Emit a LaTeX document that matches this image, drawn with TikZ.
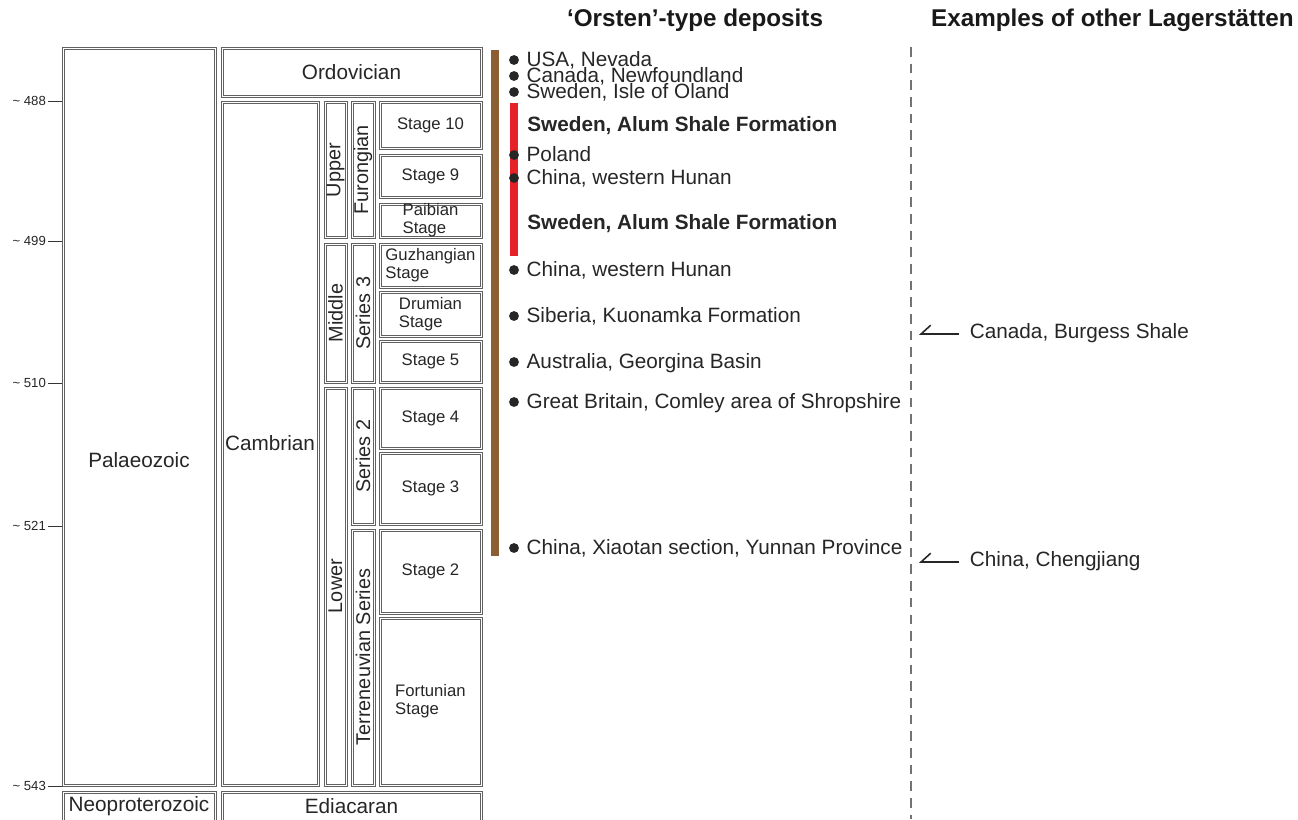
\documentclass[tikz,border=0pt]{standalone}
\usepackage{fontspec}
\setmainfont{Liberation Sans}
\usepackage{xcolor}
\usepackage{tikz}
\usetikzlibrary{positioning,arrows.meta}

\definecolor{orstenbrown}{RGB}{139,94,52}
\definecolor{alumred}{RGB}{232,32,40}

\tikzset{
  boxline/.style={draw=black!62, line width=0.55pt},
  bigtxt/.style={font=\fontsize{11.8}{13}\selectfont, text=black!85},
  vtxt/.style={font=\fontsize{11.3}{13}\selectfont, text=black!85, rotate=90},
  stagetxt/.style={font=\fontsize{9.5}{10.2}\selectfont, text=black!85, align=left},
  agetxt/.style={font=\fontsize{7.5}{9}\selectfont, text=black!85, anchor=east, inner sep=1pt},
  tick/.style={draw=black!80, line width=0.5pt},
  site/.style={font=\fontsize{11.8}{13}\selectfont, text=black!85, anchor=west, inner sep=0pt, text height=0.72em, text depth=0pt},
  alum/.style={site, font=\fontsize{11.8}{13}\selectfont\bfseries},
  dot/.style={circle, fill=black!85, inner sep=0pt, minimum size=5.6pt},
  other/.style={site, inner xsep=6pt, text depth=0.25em},
  head/.style={font=\fontsize{13.8}{16}\selectfont\bfseries, text=black!90},
  harp/.style={-{Straight Barb[harpoon,swap,length=5.5pt,width=10pt]}, line width=0.9pt, draw=black!85},
  divider/.style={draw=black!55, line width=0.6pt, dash pattern=on 5.5pt off 4pt},
}

% double-lined chart box
\newcommand{\chronbox}[4]{%
  \draw[boxline] (#1,#2) -| (#3,#4) -| cycle;
  \draw[boxline] (#1+2,#2+2) -| (#3-2,#4-2) -| cycle;}

\begin{document}
\begin{tikzpicture}[x=0.02cm, y=-0.02cm]
\useasboundingbox (0,0) -| (1298,819) -| cycle;

\node[head] (hOrsten) at (695,20) {`Orsten'-type deposits};
\node[head, anchor=west] (hOther) at (925,20) {Examples of other Lagerst\"atten};

% ages
\foreach \a/\y in {488/101,499/241,510/383,521/526,543/786}
	{\node[agetxt] (t\a) at (48,\y) {\textasciitilde\ \a};
	\draw[tick] (t\a.east) -- (62,\y);}

% eras and systems
\chronbox{62}{47}{216}{786}
\node[bigtxt] (palaeo) at (139,460) {Palaeozoic};
\chronbox{221}{47}{482}{97}
\node[bigtxt] (ordo) at (351.5,72) {Ordovician};
\chronbox{221}{101}{319}{786}
\node[bigtxt] (camb) at (270,443) {Cambrian};
\chronbox{62}{791}{216}{840}
\node[bigtxt] (neo) at (139,806) {Neoproterozoic};
\chronbox{221}{791}{482}{840}
\node[bigtxt] (edia) at (351.5,806) {Ediacaran};

% epochs and series
\chronbox{324}{101}{347}{238}
\node[vtxt] (upper) at (335.5,170) {Upper};
\chronbox{324}{243}{347}{383}
\node[vtxt] (middle) at (335.5,313) {Middle};
\chronbox{324}{387}{347}{786}
\node[vtxt] (lower) at (335.5,586) {Lower};
\chronbox{351}{101}{375}{238}
\node[vtxt] (furong) at (363,170) {Furongian};
\chronbox{351}{243}{375}{383}
\node[vtxt] (ser3) at (363,313) {Series 3};
\chronbox{351}{387}{375}{525}
\node[vtxt] (ser2) at (363,456) {Series 2};
\chronbox{351}{529}{375}{786}
\node[vtxt] (terre) at (363,657) {Terreneuvian Series};

% stages
\foreach \n/\t/\b/\lab in {s10/101/149/{Stage 10}, s9/154/198/{Stage 9},
	paib/203/238/{Paibian\\Stage}, guzh/243/288/{Guzhangian\\Stage},
	drum/291/337/{Drumian\\Stage}, s5/340/383/{Stage 5}, s4/387/449/{Stage 4},
	s3/452/525/{Stage 3}, s2/529/614/{Stage 2}, fort/617/786/{Fortunian\\Stage}}
	{\chronbox{379}{\t}{482}{\b}
	\node[stagetxt] (\n) at (430.5,{(\t+\b)/2}) {\lab};}

% ranges
\fill[orstenbrown] (491,50) -| (499,556) -| cycle;
\fill[alumred] (510,103) -| (518,256) -| cycle;

% Orsten-type deposits
\node[dot] (d1) at (514,60) {};
\node[site, right=4pt of d1] (nevada) {USA, Nevada};
\node[dot] (d2) at (514,76) {};
\node[site, right=4pt of d2] (newf) {Canada, Newfoundland};
\node[dot] (d3) at (514,92) {};
\node[site, right=4pt of d3] (oland) {Sweden, Isle of Oland};
\node[alum] (alum1) at (527,125) {Sweden, Alum Shale Formation};
\node[dot] (d4) at (514,155) {};
\node[site, right=4pt of d4] (poland) {Poland};
\node[dot] (d5) at (514,178) {};
\node[site, right=4pt of d5] (hunan1) {China, western Hunan};
\node[alum] (alum2) at (527,223) {Sweden, Alum Shale Formation};
\node[dot] (d6) at (514,270) {};
\node[site, right=4pt of d6] (hunan2) {China, western Hunan};
\node[dot] (d7) at (514,316) {};
\node[site, right=4pt of d7] (siberia) {Siberia, Kuonamka Formation};
\node[dot] (d8) at (514,362) {};
\node[site, right=4pt of d8] (austr) {Australia, Georgina Basin};
\node[dot] (d9) at (514,402) {};
\node[site, right=4pt of d9] (comley) {Great Britain, Comley area of Shropshire};
\node[dot] (d10) at (514,548) {};
\node[site, right=4pt of d10] (xiaotan) {China, Xiaotan section, Yunnan Province};

% other Lagerstaetten
\coordinate (dTop) at (911,47);
\coordinate (dBot) at (911,819);
\draw[divider] (dTop) -- (dBot);

\node[other] (burgess) at (959,334) {Canada, Burgess Shale};
\coordinate (burgessTip) at (919,334);
\draw[harp] (burgess.west) -- (burgessTip);

\node[other] (cheng) at (959,562) {China, Chengjiang};
\coordinate (chengTip) at (919,562);
\draw[harp] (cheng.west) -- (chengTip);

\end{tikzpicture}
\end{document}
